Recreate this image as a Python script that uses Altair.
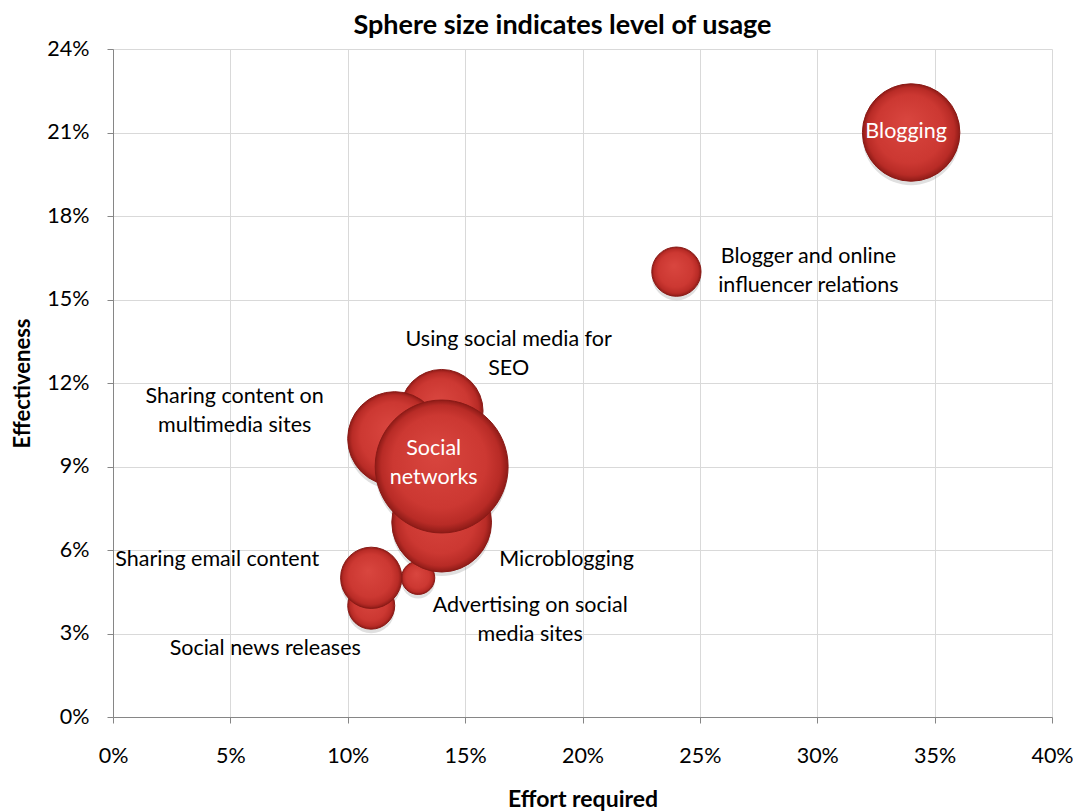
import altair as alt
import pandas as pd

# ---- data ----
names = ["Advertising on social media sites", "Social news releases", "Sharing email content",
         "Using social media for SEO", "Sharing content on multimedia sites", "Microblogging",
         "Social networks", "Blogger and online influencer relations", "Blogging"]
effort = [0.13, 0.11, 0.11, 0.14, 0.12, 0.14, 0.14, 0.24, 0.34]
effectiveness = [0.05, 0.04, 0.05, 0.11, 0.10, 0.07, 0.09, 0.16, 0.21]
usage = [5, 10, 17, 31, 40, 45, 80, 11, 43]
label_lines = [["Advertising on social", "media sites"], ["Social news releases"], ["Sharing email content"],
               ["Using social media for", "SEO"], ["Sharing content on", "multimedia sites"], ["Microblogging"],
               ["Social", "networks"], ["Blogger and online", "influencer relations"], ["Blogging"]]

df = pd.DataFrame({"name": names, "effort": effort, "eff": effectiveness, "usage": usage,
                   "label": label_lines, "order": list(range(len(names)))})

FONT = "Lato"
FS = 21.5
W, H = 939, 668

x = alt.X("effort:Q", scale=alt.Scale(domain=[0, 0.4], nice=False),
          axis=alt.Axis(title="Effort required", format=".0%", values=[i * 0.05 for i in range(9)],
                        grid=True, gridColor="#d9d9d9", domainColor="#868686", tickColor="#868686",
                        tickSize=6, labelPadding=22, labelFontSize=FS, labelColor="#000", labelFlush=False,
                        labelFont=FONT, titleFont=FONT, titleFontSize=23, titleFontWeight="bold",
                        titleColor="#000", titlePadding=22))
y = alt.Y("eff:Q", scale=alt.Scale(domain=[0, 0.24], nice=False),
          axis=alt.Axis(title="Effectiveness", format=".0%", values=[i * 0.03 for i in range(9)],
                        grid=True, gridColor="#d9d9d9", domainColor="#868686", tickColor="#868686",
                        tickSize=6, labelPadding=18, labelFontSize=FS, labelColor="#000", labelFlush=False,
                        labelFont=FONT, titleFont=FONT, titleFontSize=22, titleFontWeight="bold",
                        titleColor="#000", titlePadding=12))

gradient = {"gradient": "radial", "x1": 0.45, "y1": 0.38, "r1": 0.0, "x2": 0.5, "y2": 0.5, "r2": 0.5,
            "stops": [{"offset": 0, "color": "#d9463f"}, {"offset": 0.7, "color": "#cc3832"},
                      {"offset": 0.9, "color": "#b82b26"}, {"offset": 1, "color": "#8e1b17"}]}

base = alt.Chart(df)
size = alt.Size("usage:Q", scale=alt.Scale(domain=[0, 80], range=[0, 17671]), legend=None)

shadow = base.mark_circle(opacity=0.18, color="#555").encode(
    x=x, y=y, yOffset=alt.value(4), size=size, order="order:Q")

bubbles = base.mark_circle(fill=gradient, stroke="#8a1a16", strokeWidth=1, opacity=1).encode(
    x=x, y=y, size=size, order="order:Q")

offsets = {
    "Blogging": (-5, -1, "white"),
    "Social networks": (-8, -18, "white"),
    "Blogger and online influencer relations": (132, -15, "black"),
    "Using social media for SEO": (67, -71, "black"),
    "Sharing content on multimedia sites": (-160, -42, "black"),
    "Sharing email content": (-154, -18, "black"),
    "Microblogging": (125, 38, "black"),
    "Advertising on social media sites": (112, 28, "black"),
    "Social news releases": (-106, 43, "black"),
}

texts = []
for n, (dx, dy, col) in offsets.items():
    texts.append(base.transform_filter(alt.datum.name == n).mark_text(
        dx=dx, dy=dy, color=col, font=FONT, fontSize=FS, lineHeight=29,
        align="center", baseline="middle").encode(x=x, y=y, text="label"))

chart = alt.layer(shadow, bubbles, *texts).properties(
    width=W, height=H,
    title=alt.TitleParams("Sphere size indicates level of usage", font=FONT, fontSize=27,
                          fontWeight="bold", color="#000", offset=-2, dx=-20),
    autosize=alt.AutoSizeParams(type="none"),
    padding={"left": 105, "top": 41, "right": 21, "bottom": 95},
).configure_view(stroke=None)

chart.save("out.html", embed_options={"renderer": "svg", "actions": False})
